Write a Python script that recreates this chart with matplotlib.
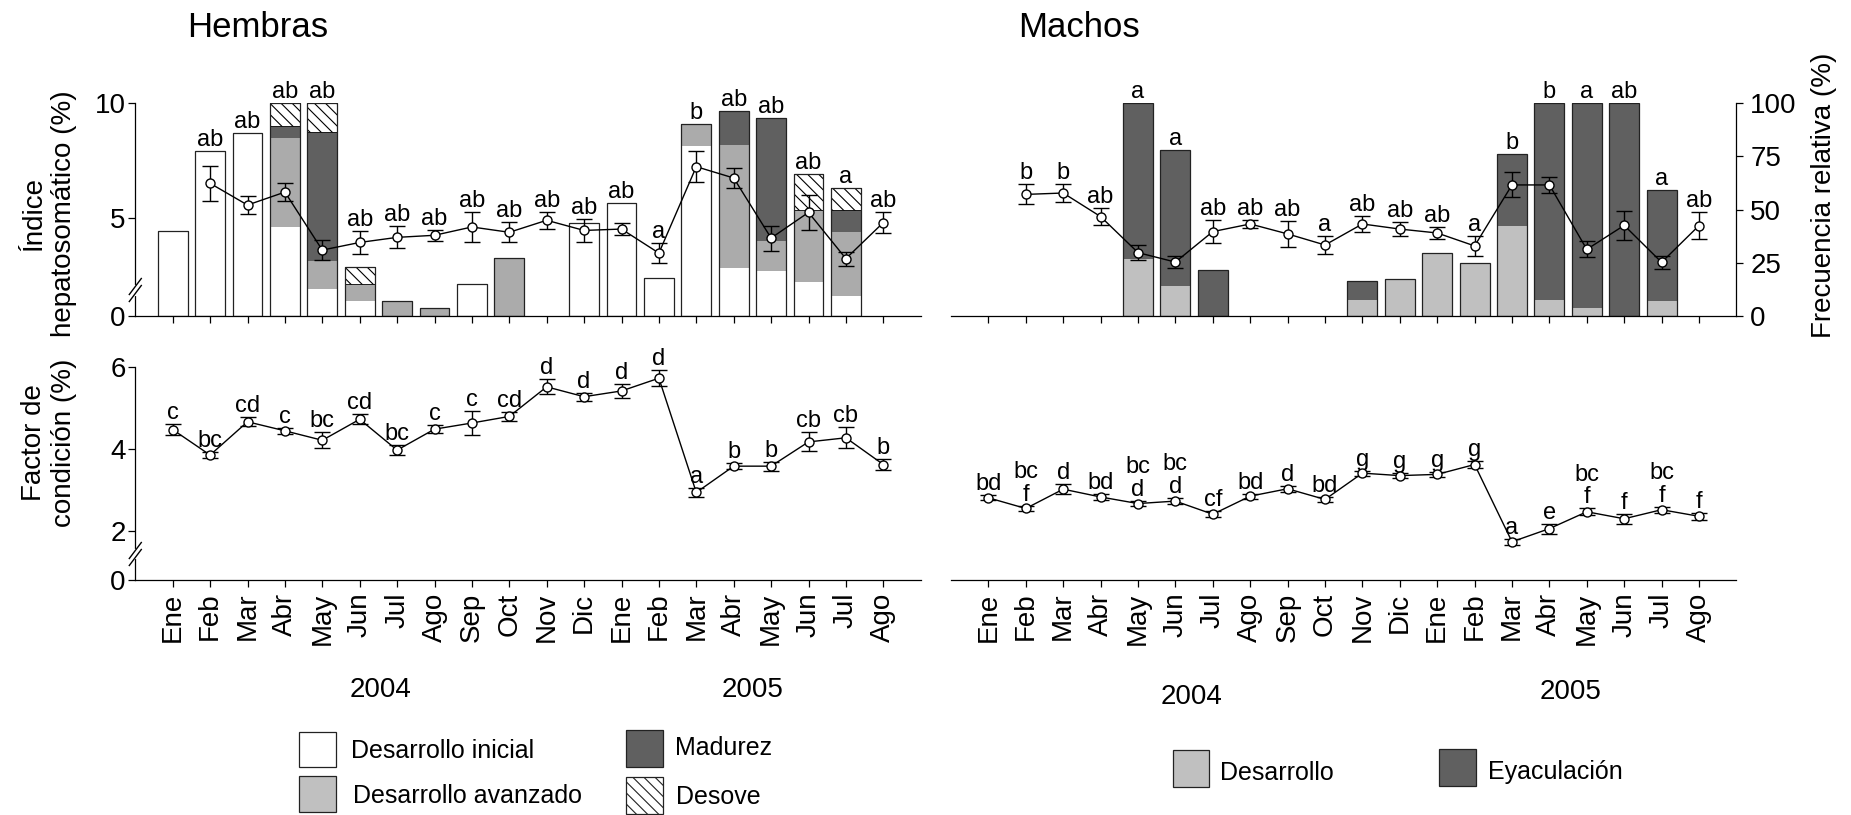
import numpy as np
import matplotlib
matplotlib.use('Agg')
import matplotlib.pyplot as plt
from matplotlib.patches import Rectangle

plt.rcParams['font.family'] = ['Liberation Sans', 'DejaVu Sans']
plt.rcParams['hatch.linewidth'] = 0.8
plt.rcParams['axes.linewidth'] = 0.9

# -------------------------------------------------------------------
# DATOS
# -------------------------------------------------------------------
meses = ['Ene', 'Feb', 'Mar', 'Abr', 'May', 'Jun', 'Jul', 'Ago', 'Sep', 'Oct',
         'Nov', 'Dic', 'Ene', 'Feb', 'Mar', 'Abr', 'May', 'Jun', 'Jul', 'Ago']
x = np.arange(len(meses))
nan = np.nan

# --- Hembras: índice hepatosomático ---
ihs_h = [nan, 6.51, 5.57, 6.13, 3.62, 3.95, 4.17, 4.26, 4.62, 4.39,
         4.91, 4.47, 4.53, 3.49, 7.23, 6.74, 4.14, 5.25, 3.25, 4.81]
ihs_h_err = [nan, 0.75, 0.37, 0.40, 0.45, 0.49, 0.48, 0.25, 0.66, 0.43,
             0.37, 0.48, 0.27, 0.44, 0.66, 0.44, 0.54, 0.74, 0.30, 0.44]
ihs_h_let = ['', 'ab', 'ab', 'ab', 'ab', 'ab', 'ab', 'ab', 'ab', 'ab',
             'ab', 'ab', 'ab', 'a', 'b', 'ab', 'ab', 'ab', 'a', 'ab']

# --- Hembras: frecuencia relativa de estadios (%) ---
inicial_h = [40.0, 77.3, 85.6, 41.8, 12.8, 7.3, 0, 0, 15.3, 0,
             0, 43.7, 53.0, 18.1, 79.5, 22.8, 21.1, 16.2, 9.7, 0]
avanzado_h = [0, 0, 0, 41.9, 13.1, 7.7, 7.0, 3.75, 0, 27.2,
              0, 0, 0, 0, 10.6, 57.6, 14.3, 33.6, 30.0, 0]
madurez_h = [0, 0, 0, 5.3, 60.6, 0, 0, 0, 0, 0,
             0, 0, 0, 0, 0, 15.8, 57.5, 0, 10.1, 0]
desove_h = [0, 0, 0, 11.0, 13.5, 8.0, 0, 0, 0, 0,
            0, 0, 0, 0, 0, 0, 0, 16.9, 10.3, 0]

# --- Machos: índice hepatosomático ---
ihs_m = [nan, 6.03, 6.09, 5.07, 3.51, 3.10, 4.42, 4.75, 4.32, 3.84,
         4.75, 4.53, 4.36, 3.80, 6.44, 6.44, 3.65, 4.69, 3.09, 4.68]
ihs_m_err = [nan, 0.43, 0.40, 0.35, 0.34, 0.25, 0.49, 0.18, 0.58, 0.40,
             0.34, 0.32, 0.25, 0.43, 0.54, 0.36, 0.35, 0.63, 0.28, 0.59]
ihs_m_let = ['', 'b', 'b', 'ab', 'a', 'a', 'ab', 'ab', 'ab', 'a',
             'ab', 'ab', 'ab', 'a', 'b', 'b', 'a', 'ab', 'a', 'ab']

# --- Machos: frecuencia relativa de estadios (%) ---
desarrollo_m = [0, 0, 0, 0, 26.7, 14.2, 0, 0, 0, 0,
                7.8, 17.3, 29.8, 24.8, 42.5, 7.6, 4.0, 0, 7.0, 0]
eyaculacion_m = [0, 0, 0, 0, 73.3, 63.6, 21.8, 0, 0, 0,
                 8.6, 0, 0, 0, 33.5, 92.4, 96.0, 100.0, 52.1, 0]

# --- Factor de condición ---
fc_h = [4.47, 3.85, 4.66, 4.44, 4.21, 4.72, 3.97, 4.48, 4.63, 4.79,
        5.51, 5.27, 5.41, 5.72, 2.94, 3.58, 3.58, 4.17, 4.27, 3.62]
fc_h_err = [0.13, 0.08, 0.11, 0.07, 0.20, 0.12, 0.12, 0.09, 0.28, 0.10,
            0.18, 0.10, 0.17, 0.20, 0.10, 0.08, 0.11, 0.23, 0.26, 0.14]
fc_h_let = ['c', 'bc', 'cd', 'c', 'bc', 'cd', 'bc', 'c', 'c', 'cd',
            'd', 'd', 'd', 'd', 'a', 'b', 'b', 'cb', 'cb', 'b']

fc_m = [2.81, 2.55, 3.02, 2.83, 2.67, 2.73, 2.41, 2.85, 3.03, 2.77,
        3.41, 3.35, 3.38, 3.62, 1.74, 2.06, 2.47, 2.30, 2.52, 2.36]
fc_m_err = [0.06, 0.07, 0.12, 0.07, 0.06, 0.07, 0.07, 0.06, 0.07, 0.07,
            0.06, 0.06, 0.07, 0.08, 0.07, 0.12, 0.08, 0.12, 0.07, 0.08]
fc_m_let = ['bd', 'bc\nf', 'd', 'bd', 'bc\nd', 'bc\nd', 'cf', 'bd', 'd', 'bd',
            'g', 'g', 'g', 'g', 'a', 'e', 'bc\nf', 'f', 'bc\nf', 'f']

# -------------------------------------------------------------------
# ESTILO
# -------------------------------------------------------------------
BLANCO = 'white'
GRIS_H = '#ababab'
GRIS_M = '#c0c0c0'
OSCURO = '#606060'
RAYADO = '\\\\\\'

W, H = 1851, 815
ANCHO = 0.8
IHS_MIN = 0.753   # el "0" del eje cortado
FC_MIN = 0.81

fig = plt.figure(figsize=(W / 100, H / 100), dpi=100)


def rect(x0, y_top, y_bot):
    return [x0 / W, 1 - y_bot / H, 785.4 / W, (y_bot - y_top) / H]


def corte(ax, yfrac):
    # marcas de eje cortado
    dx, dy = 6 / 785.4, 8 / 213.6
    off = 3.5 / 213.6
    ax.plot([0, 0], [yfrac - off, yfrac + off], color='white', lw=3,
            transform=ax.transAxes, clip_on=False, zorder=6)
    for s in (-off, off):
        ax.plot([-dx, dx], [yfrac + s - dy, yfrac + s + dy], color='black', lw=1.0,
                transform=ax.transAxes, clip_on=False, zorder=7)


def panel_superior(x0, ihs, err, letras, capas, eje_der):
    ax = fig.add_axes(rect(x0, 102.7, 316.3))
    axb = ax.twinx()
    ax.set_zorder(axb.get_zorder() + 1)
    ax.patch.set_visible(False)

    base = np.zeros(len(x))
    for vals, col, hatch in capas:
        vals = np.array(vals, dtype=float)
        axb.bar(x, vals, ANCHO, bottom=base, color=col, edgecolor='black',
                hatch=hatch, linewidth=0 if hatch is None else 0.6)
        base += vals
    axb.bar(x, np.where(base > 0, base, np.nan), ANCHO, fill=False,
            edgecolor='#222222', linewidth=0.9)
    axb.set_ylim(0, 100)

    ax.errorbar(x, ihs, yerr=err, fmt='-o', color='black', mfc='white', mec='black',
                ms=6.5, lw=1.0, elinewidth=1.0, capsize=5.5, capthick=1.0, zorder=3)
    ax.set_ylim(IHS_MIN, 10)
    ax.set_xlim(-1, 20)

    for xi, v, e, tot, lab in zip(x, ihs, err, base, letras):
        if not lab:
            continue
        y_barra = IHS_MIN + tot / 100 * (10 - IHS_MIN)
        y = max(v + e, y_barra)
        ax.annotate(lab, (xi, y), xytext=(0, 0), textcoords='offset points',
                    ha='center', va='bottom', fontsize=17)

    ax.set_xticks(x)
    ax.tick_params(axis='x', labelbottom=False, direction='out', length=5, width=0.9)
    for s in ('top', 'right'):
        ax.spines[s].set_visible(False)
    for s in ('top', 'left', 'bottom'):
        axb.spines[s].set_visible(False)

    if eje_der:
        ax.spines['left'].set_visible(False)
        ax.set_yticks([])
        axb.spines['right'].set_bounds(0, 100)
        axb.set_yticks([0, 25, 50, 75, 100])
        axb.tick_params(axis='y', direction='out', length=5, width=0.9,
                        labelsize=20, pad=5)
    else:
        axb.spines['right'].set_visible(False)
        axb.set_yticks([])
        ax.set_yticks([IHS_MIN, 5, 10])
        ax.set_yticklabels(['0', '5', '10'])
        ax.tick_params(axis='y', direction='out', length=5, width=0.9,
                       labelsize=20, pad=2)
        corte(ax, (316.3 - 290) / 213.6)
    return ax


def panel_inferior(x0, fc, err, letras, eje_izq):
    ax = fig.add_axes(rect(x0, 366.7, 580.0))
    ax.errorbar(x, fc, yerr=err, fmt='-o', color='black', mfc='white', mec='black',
                ms=6.5, lw=1.0, elinewidth=1.0, capsize=5.5, capthick=1.0, zorder=3)
    ax.set_ylim(FC_MIN, 6)
    ax.set_xlim(-1, 20)
    for xi, v, e, lab in zip(x, fc, err, letras):
        ax.annotate(lab, (xi, v + e), xytext=(0, 0), textcoords='offset points',
                    ha='center', va='bottom', fontsize=17, linespacing=1.05)
    ax.set_xticks(x)
    ax.set_xticklabels(meses, rotation=90, fontsize=20)
    ax.tick_params(axis='x', direction='out', length=5, width=0.9, pad=4)
    for s in ('top', 'right'):
        ax.spines[s].set_visible(False)
    if eje_izq:
        ax.set_yticks([FC_MIN, 2, 4, 6])
        ax.set_yticklabels(['0', '2', '4', '6'])
        ax.tick_params(axis='y', direction='out', length=5, width=0.9,
                       labelsize=20, pad=2)
        corte(ax, (580 - 554) / 213.3)
    else:
        ax.spines['left'].set_visible(False)
        ax.set_yticks([])
    return ax


# -------------------------------------------------------------------
# PANELES
# -------------------------------------------------------------------
capas_h = [(inicial_h, BLANCO, None), (avanzado_h, GRIS_H, None),
           (madurez_h, OSCURO, None), (desove_h, 'white', RAYADO)]
capas_m = [(desarrollo_m, GRIS_M, None), (eyaculacion_m, OSCURO, None)]

panel_superior(135.3, ihs_h, ihs_h_err, ihs_h_let, capas_h, eje_der=False)
panel_superior(951.0, ihs_m, ihs_m_err, ihs_m_let, capas_m, eje_der=True)
panel_inferior(135.3, fc_h, fc_h_err, fc_h_let, eje_izq=True)
panel_inferior(951.0, fc_m, fc_m_err, fc_m_let, eje_izq=False)

# -------------------------------------------------------------------
# TEXTOS
# -------------------------------------------------------------------
fig.text(187 / W, 1 - 37 / H, 'Hembras', fontsize=25, ha='left', va='baseline')
fig.text(1018 / W, 1 - 37 / H, 'Machos', fontsize=25, ha='left', va='baseline')

fig.text(49 / W, 1 - 214 / H, 'Índice\nhepatosomático (%)', rotation=90,
         ha='center', va='center', multialignment='center', fontsize=20)
fig.text(49 / W, 1 - 443 / H, 'Factor de\ncondición (%)', rotation=90,
         ha='center', va='center', multialignment='center', fontsize=20)
fig.text(1824 / W, 1 - 195 / H, 'Frecuencia relativa (%)', rotation=90,
         ha='center', va='center', fontsize=20)

for xp, yp, t in [(381, 690, '2004'), (753, 690, '2005'),
                  (1192, 697, '2004'), (1571, 692, '2005')]:
    fig.text(xp / W, 1 - yp / H, t, fontsize=20, ha='center', va='center')

# -------------------------------------------------------------------
# LEYENDAS
# -------------------------------------------------------------------
def caja(x0, y0, x1, y1, color, hatch=None):
    fig.add_artist(Rectangle((x0 / W, 1 - y1 / H), (x1 - x0) / W, (y1 - y0) / H,
                             transform=fig.transFigure, facecolor=color,
                             edgecolor='#222222', linewidth=0.9, hatch=hatch))


caja(298.7, 732, 336.4, 767.3, BLANCO)
caja(298.7, 775.6, 336.4, 812.2, GRIS_M)
caja(625.7, 729.5, 663.4, 767.3, OSCURO)
caja(625.7, 776.8, 663.4, 813.8, 'white', RAYADO)
fig.text(350.6 / W, 1 - 750.8 / H, 'Desarrollo inicial', fontsize=18, va='center')
fig.text(353 / W, 1 - 795.7 / H, 'Desarrollo avanzado', fontsize=18, va='center')
fig.text(675.2 / W, 1 - 748.4 / H, 'Madurez', fontsize=18, va='center')
fig.text(676.4 / W, 1 - 796.8 / H, 'Desove', fontsize=18, va='center')

caja(1172.7, 750, 1209, 787, GRIS_M)
caja(1439, 749, 1475.7, 785.7, OSCURO)
fig.text(1220 / W, 1 - 773.3 / H, 'Desarrollo', fontsize=18, va='center')
fig.text(1488.3 / W, 1 - 772 / H, 'Eyaculación', fontsize=18, va='center')

plt.savefig('out.png', dpi=100)
